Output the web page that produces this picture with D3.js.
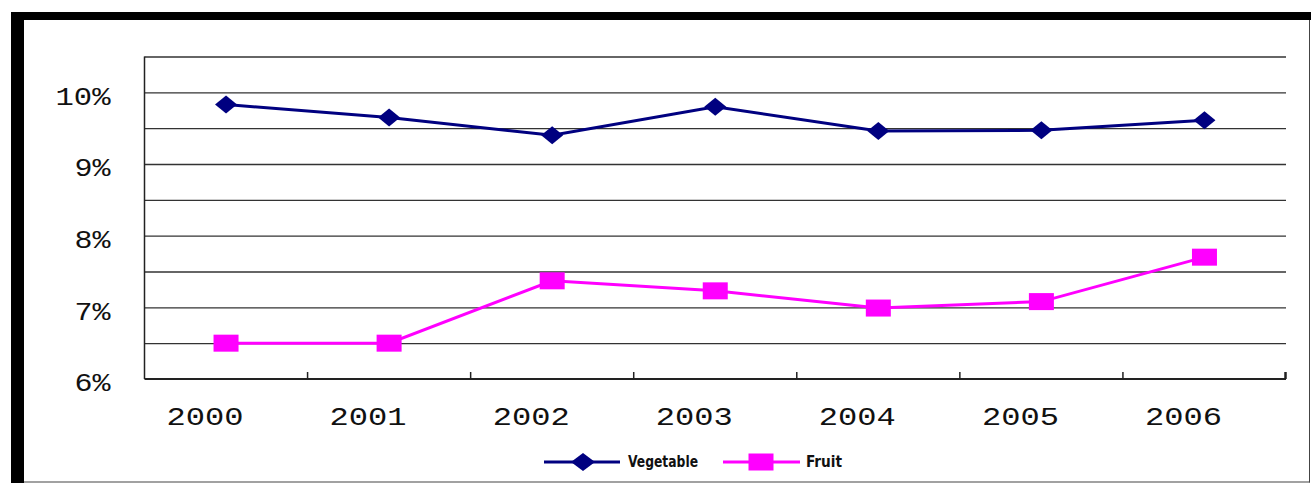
<!DOCTYPE html>
<html>
<head>
<meta charset="utf-8">
<script src="https://cdn.jsdelivr.net/npm/d3@7/dist/d3.min.js"></script>
<style>
  html, body { margin: 0; padding: 0; background: #fff; }
  svg { display: block; }
</style>
</head>
<body>
<svg id="chart" width="1311" height="483"></svg>
<script>
// ---- data ----
const years = ["2000", "2001", "2002", "2003", "2004", "2005", "2006"];
const vegetable = [9.83, 9.65, 9.40, 9.80, 9.46, 9.47, 9.61];
const fruit = [6.50, 6.50, 7.37, 7.23, 6.99, 7.08, 7.70];
const yTickValues = [6, 7, 8, 9, 10];
const gridValues = [6.5, 7, 7.5, 8, 8.5, 9, 9.5, 10, 10.5];
const seriesNames = ["Vegetable", "Fruit"];

// ---- layout ----
const svg = d3.select("#chart");
const W = 1311, H = 483;
const plot = { left: 144.5, right: 1286, top: 56.5, bottom: 379 };

const x = d3.scaleBand().domain(years).range([plot.left, plot.right]).padding(0);
const y = d3.scaleLinear().domain([6, 10.5]).range([plot.bottom, plot.top]);

const navy = "#000080", magenta = "#ff00ff";
const tickFont = "'Liberation Mono', 'DejaVu Sans Mono', monospace";
const charW = 19;

// frame
svg.append("rect").attr("x", 11).attr("y", 12).attr("width", W - 11).attr("height", 8).attr("fill", "#000");
svg.append("rect").attr("x", 11).attr("y", 12).attr("width", 13).attr("height", H - 12).attr("fill", "#000");
svg.append("line").attr("x1", 1309.5).attr("x2", 1309.5).attr("y1", 20).attr("y2", 482.5).attr("stroke", "#444").attr("stroke-width", 1);
svg.append("line").attr("x1", 24).attr("x2", 1310).attr("y1", 482).attr("y2", 482).attr("stroke", "#444").attr("stroke-width", 1.2);

// gridlines
const grid = svg.append("g").attr("transform", `translate(${plot.left},0)`)
  .call(d3.axisRight(y).tickValues(gridValues).tickSize(plot.right - plot.left).tickFormat(""));
grid.select(".domain").remove();
grid.selectAll(".tick line").attr("stroke", "#333").attr("stroke-width", 1.3);

// left axis line
svg.append("line").attr("x1", plot.left).attr("x2", plot.left)
  .attr("y1", plot.top).attr("y2", plot.bottom).attr("stroke", "#222").attr("stroke-width", 1.5);

// y labels
const yAxis = svg.append("g").attr("transform", `translate(${plot.left},0)`)
  .call(d3.axisLeft(y).tickValues(yTickValues).tickSize(0).tickPadding(34).tickFormat(d => d + "%"));
yAxis.select(".domain").remove();
yAxis.selectAll("text")
  .attr("font-family", tickFont).attr("font-size", 26).attr("fill", "#111")
  .attr("dy", "0.45em")
  .attr("textLength", d => (String(d).length + 1) * charW - 2)
  .attr("lengthAdjust", "spacingAndGlyphs");

// x axis
svg.append("line").attr("x1", plot.left).attr("x2", plot.right)
  .attr("y1", plot.bottom).attr("y2", plot.bottom).attr("stroke", "#222").attr("stroke-width", 1.8);
const boundaries = years.slice(1).map(d => x(d)).concat([plot.right - 0.5]);
svg.append("g").selectAll("line").data(boundaries).join("line")
  .attr("x1", d => d).attr("x2", d => d)
  .attr("y1", plot.bottom).attr("y2", plot.bottom - 7)
  .attr("stroke", "#222").attr("stroke-width", (d, i) => i === boundaries.length - 1 ? 2.5 : 1.5);

const xAxis = svg.append("g").attr("transform", `translate(0,${plot.bottom})`)
  .call(d3.axisBottom(x).tickSize(0).tickPadding(28));
xAxis.select(".domain").remove();
xAxis.selectAll("text")
  .attr("font-family", tickFont).attr("font-size", 26).attr("fill", "#111")
  .attr("dx", -21)
  .attr("textLength", d => d.length * charW + 1)
  .attr("lengthAdjust", "spacingAndGlyphs");

// lines
const cx = d => x(d) + x.bandwidth() / 2;
const line = d3.line().x(d => cx(d.year)).y(d => y(d.value));
const vegData = years.map((yr, i) => ({ year: yr, value: vegetable[i] }));
const fruitData = years.map((yr, i) => ({ year: yr, value: fruit[i] }));

svg.append("path").datum(vegData).attr("d", line).attr("fill", "none")
  .attr("stroke", navy).attr("stroke-width", 3);
svg.append("path").datum(fruitData).attr("d", line).attr("fill", "none")
  .attr("stroke", magenta).attr("stroke-width", 3);

const diamond = (px, py, hw, hh) => `M${px - hw},${py}L${px},${py - hh}L${px + hw},${py}L${px},${py + hh}Z`;
svg.append("g").selectAll("path").data(vegData).join("path")
  .attr("d", d => diamond(cx(d.year), y(d.value), 11, 9)).attr("fill", navy);
svg.append("g").selectAll("rect").data(fruitData).join("rect")
  .attr("x", d => cx(d.year) - 12.5).attr("y", d => y(d.value) - 8.5)
  .attr("width", 25).attr("height", 17).attr("fill", magenta);

// legend
const legendFont = "'DejaVu Sans Condensed', 'DejaVu Sans', sans-serif";
const leg = svg.append("g");
const legItems = [
  { name: seriesNames[0], color: navy, x0: 544, x1: 620, mx: 583, tx: 628, tw: 70, shape: "diamond" },
  { name: seriesNames[1], color: magenta, x0: 723, x1: 800, mx: 761, tx: 806, tw: 36, shape: "square" }
];
const ly = 462;
legItems.forEach(it => {
  leg.append("line").attr("x1", it.x0).attr("x2", it.x1).attr("y1", ly).attr("y2", ly)
    .attr("stroke", it.color).attr("stroke-width", 3);
  if (it.shape === "diamond") {
    leg.append("path").attr("d", diamond(it.mx, ly, 12, 9)).attr("fill", it.color);
  } else {
    leg.append("rect").attr("x", it.mx - 12.5).attr("y", ly - 8.5).attr("width", 25).attr("height", 17).attr("fill", it.color);
  }
  leg.append("text").attr("x", it.tx).attr("y", 467)
    .attr("font-family", legendFont).attr("font-size", 16).attr("font-weight", "bold")
    .attr("textLength", it.tw).attr("lengthAdjust", "spacingAndGlyphs")
    .attr("fill", "#111").text(it.name);
});
</script>
</body>
</html>
